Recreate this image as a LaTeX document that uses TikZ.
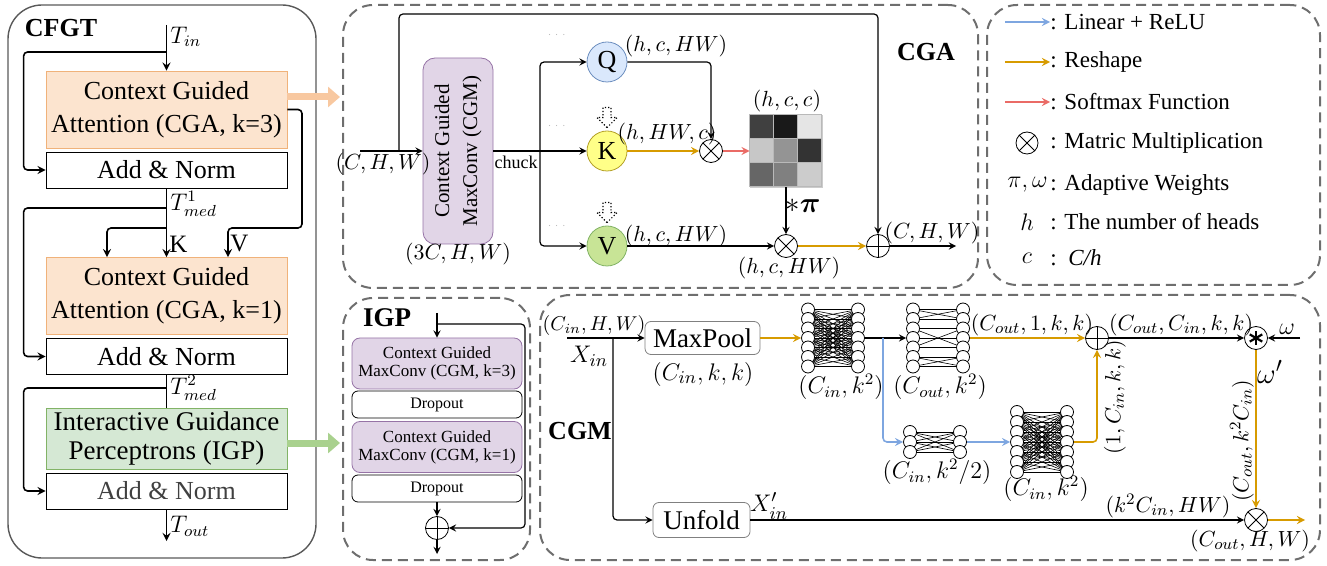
\documentclass[tikz,border=0pt]{standalone}
\usepackage[no-math]{fontspec}
\setmainfont{Liberation Serif}
\usepackage{amsmath,amssymb}
\usetikzlibrary{calc,arrows.meta}
\definecolor{cgafill}{RGB}{252,228,207}
\definecolor{cgadraw}{RGB}{240,178,122}
\definecolor{igpfill}{RGB}{213,232,212}
\definecolor{igpdraw}{RGB}{130,179,102}
\definecolor{cgmfill}{RGB}{225,213,231}
\definecolor{cgmdraw}{RGB}{150,115,166}
\definecolor{qfill}{RGB}{218,232,252}
\definecolor{qdraw}{RGB}{108,142,191}
\definecolor{kfill}{RGB}{255,255,136}
\definecolor{kdraw}{RGB}{180,160,40}
\definecolor{vfill}{RGB}{200,228,150}
\definecolor{linrelu}{RGB}{126,166,224}
\definecolor{reshape}{RGB}{215,155,0}
\definecolor{softmax}{RGB}{234,107,102}
\definecolor{peach}{RGB}{248,200,160}
\definecolor{mint}{RGB}{169,209,142}
\definecolor{panelgray}{RGB}{110,110,110}

\pgfdeclarelayer{bg}
\pgfsetlayers{bg,main}

\tikzset{
  panel/.style={draw=panelgray, line width=1pt, dash pattern=on 5pt off 3pt, rounded corners=15pt, inner sep=0pt},
  flow/.style={thick, rounded corners=2pt},
  cfgtbox/.style={draw, minimum width=120.5pt, inner sep=0pt, align=center, font=\fontsize{13}{16.5}\selectfont},
  cgabox/.style={cfgtbox, fill=cgafill, draw=cgadraw, minimum height=38.5pt},
  normbox/.style={cfgtbox, minimum height=18pt},
  igpbox/.style={cfgtbox, fill=igpfill, draw=igpdraw, minimum height=30.5pt, font=\fontsize{13.5}{14.5}\selectfont},
  mcrot/.style={draw=cgmdraw, fill=cgmfill, rotate=90, rounded corners=6pt, minimum width=93pt, minimum height=35pt, inner sep=0pt, align=center, font=\fontsize{10.5}{14}\selectfont},
  mcbox/.style={draw=cgmdraw, fill=cgmfill, rounded corners=4pt, minimum width=85pt, minimum height=25.5pt, inner sep=0pt, align=center, font=\fontsize{8.5}{9}\selectfont},
  dropbox/.style={draw, rounded corners=3pt, minimum width=85pt, minimum height=13.5pt, inner sep=0pt, font=\fontsize{8}{9}\selectfont},
  opbox/.style={draw=gray, rounded corners=3pt, inner sep=0pt, font=\fontsize{13.5}{15}\selectfont},
  qkv/.style={circle, draw, minimum size=20pt, inner sep=0pt, font=\fontsize{13}{15}\selectfont},
  otimes/.style={circle, draw, fill=white, minimum size=11.5pt, inner sep=0pt, path picture={
      \draw (path picture bounding box.north west) -- (path picture bounding box.south east)
            (path picture bounding box.north east) -- (path picture bounding box.south west);}},
  oplus/.style={circle, draw, fill=white, minimum size=11.5pt, inner sep=0pt, path picture={
      \draw (path picture bounding box.north) -- (path picture bounding box.south)
            (path picture bounding box.west) -- (path picture bounding box.east);}},
  ostar/.style={circle, draw, fill=white, minimum size=11.5pt, inner sep=0pt, path picture={
      \foreach \a in {90,30,-30}{\draw[line width=1.1pt] (path picture bounding box.center) ++(\a:3.6pt) -- ++({\a+180}:7.2pt);}}},
  neuron/.style={circle, draw, fill=white, minimum size=6.5pt, inner sep=0pt, line width=0.4pt},
  nnline/.style={line width=0.3pt},
  lab/.style={font=\fontsize{10.5}{12}\selectfont, inner sep=1pt},
  biglab/.style={font=\fontsize{12}{14}\selectfont, inner sep=1pt},
  ttl/.style={font=\fontsize{13}{15}\selectfont\bfseries, inner sep=0pt},
  legtext/.style={anchor=west, font=\fontsize{11.5}{13}\selectfont, inner sep=0pt},
  rs/.style={draw=reshape, line width=0.8pt},
  lr/.style={draw=linrelu, line width=0.8pt},
  sm/.style={draw=softmax, line width=0.8pt},
}

% two columns of neurons, #1 name, #2 left x, #3 centre y, #4 count, #5 gap
\newcommand{\nnlayer}[5]{%
  \foreach \i in {1,...,#4}{%
    \node[neuron] (#1l\i) at (#2, {#3+(\i-(#4+1)/2)*#5}) {};
    \node[neuron] (#1r\i) at ({#2+50}, {#3+(\i-(#4+1)/2)*#5}) {};
  }%
}

\begin{document}
\begin{tikzpicture}[x=0.5pt, y=-0.5pt, >=stealth]
\useasboundingbox (0,0) rectangle (1327,566);

% ---------- CFGT ----------
\draw[draw=black!65, line width=0.7pt, rounded corners=17pt] (8,5) rectangle (316,558);
\node[ttl] (cfgtT) at (61,28) {CFGT};
\node[cgabox] (cga1) at (166.5,109.5) {Context Guided\\Attention (CGA, k=3)};
\node[normbox] (an1) at (166.5,170) {Add \& Norm};
\node[cgabox] (cga2) at (166.5,296) {Context Guided\\Attention (CGA, k=1)};
\node[normbox] (an2) at (166.5,356.5) {Add \& Norm};
\node[igpbox] (igp) at (166.5,438.5) {Interactive Guidance\\Perceptrons (IGP)};
\node[normbox, text=black!75] (an3) at (166.5,491) {Add \& Norm};
\coordinate (tin) at (166.5,25);
\coordinate (r1) at (166.5,52);
\coordinate (t1) at (166.5,208);
\coordinate (kq) at (166.5,228);
\coordinate (vturn) at (302,228);
\coordinate (t2) at (166.5,388);
\coordinate (tout) at (166.5,541);

\draw[flow,->] (tin) -- (cga1);
\draw[flow,->] (r1) -| ([xshift=-11pt]an1.west) -- (an1);
\draw[flow] (an1) -- (kq);
\draw[flow,->] (t1) -| ([xshift=-11pt]an2.west) -- (an2);
\draw[flow,->] (kq) -- (cga2);
\draw[flow,->] (kq) -| ([xshift=-29.75pt]cga2.north);
\draw[flow,->] (cga1.east) -| (vturn) -| ([xshift=30.75pt]cga2.north);
\draw[flow] (an2) -- (igp);
\draw[flow,->] (t2) -| ([xshift=-11pt]an3.west) -- (an3);
\draw[flow,->] (an3) -- (tout);

\node[biglab, anchor=west] (tinL) at (168,37) {$T_{in}$};
\node[biglab, anchor=west] (t1L) at (168,204) {$T^1_{med}$};
\node[font=\fontsize{12.5}{14}\selectfont, anchor=west, inner sep=0.5pt] (kL) at (168,244) {K};
\node[font=\fontsize{12.5}{14}\selectfont, anchor=west, inner sep=0.5pt] (vL) at (229,244) {V};
\node[biglab, anchor=west] (t2L) at (168,388) {$T^2_{med}$};
\node[biglab, anchor=west] (toutL) at (168,526) {$T_{out}$};

% ---------- panels ----------
\node[panel, minimum width=317.5pt, minimum height=141.5pt] (cgap) at (660.5,146.5) {};
\node[panel, minimum width=166.5pt, minimum height=140pt] (legp) at (1153.5,145) {};
\node[panel, minimum width=93.5pt, minimum height=131pt] (igpp) at (436.5,429) {};
\node[panel, minimum width=390pt, minimum height=132.5pt] (cgmp) at (930,427.5) {};

% zoom arrows
\path (cga1.east) ++(0,-12.5) coordinate (pk1);
\path (igp.east) ++(0,4.5) coordinate (gk1);
\draw[peach, line width=3.5pt, -{Triangle[length=6pt,width=10pt]}] (pk1) -- ([xshift=-1pt]pk1 -| cgap.west);
\draw[mint, line width=3.5pt, -{Triangle[length=6pt,width=10pt]}] (gk1) -- ([xshift=-1pt]gk1 -| igpp.west);

% ---------- CGA ----------
\node[ttl] (cgaT) at (926,52) {CGA};
\coordinate (cin) at (360,151);
\coordinate (skip) at (399,151);
\coordinate (sp) at (540,151);
\coordinate (top) at (878,14);
\coordinate (cgaout) at (956,246);
\node[mcrot] (cgm) at (458,151) {Context Guided\\MaxConv (CGM)};
\node[qkv, fill=qfill, draw=qdraw] (q) at (607,62) {Q};
\node[qkv, fill=kfill, draw=kdraw] (k) at (607,151) {K};
\node[qkv, fill=vfill, draw=igpdraw] (v) at (607,246) {V};
\node[otimes] (mul1) at (711,151) {};
\node[draw=gray!40, minimum size=36pt, inner sep=0pt] (attn) at (786,151) {};
\foreach \g [count=\n from 0] in {75,90,10,22,42,80,60,50,20}
  \filldraw[fill=black!\g, draw=gray!55, line width=0.3pt]
    ($(attn.north west)+({mod(\n,3)*24},{int(\n/3)*24})$) rectangle ++(24,24);
\node[otimes] (mul2) at (786,246) {};
\node[oplus] (add1) at (878,246) {};

\draw[semithick,->] (cin) -- (cgm);
\draw[semithick,->,rounded corners=2pt] (skip) |- (top) -- (add1);
\draw[semithick,->] (cgm) -- (k);
\draw[semithick,->,rounded corners=2pt] (sp) |- (q);
\draw[semithick,->,rounded corners=2pt] (sp) |- (v);
\draw[semithick,->,rounded corners=2pt] (q) -| (mul1);
\draw[rs,->] (k) -- (mul1);
\draw[sm,->] (mul1) -- (attn);
\draw[semithick,->] (attn) -- (mul2);
\draw[semithick,->] (v) -- (mul2);
\draw[rs,->] (mul2) -- (add1);
\draw[semithick,->] (add1) -- (cgaout);

% hint arrows above K and V
\foreach \n in {k,v}
  \draw[densely dotted, semithick] ($(\n.north)+(0,-3)$) -- ++(-10,-10) -- ++(6,0) -- ++(0,-10)
    -- ++(8,0) -- ++(0,10) -- ++(6,0) -- cycle;
\foreach \yy/\m in {35/a,126/b,226/c}
  \node[text=gray!55, font=\tiny, inner sep=0pt] (dots\m) at (558,\yy) {$\cdots$};

\node[lab] (cinL) at (383,164) {$(C,H,W)$};
\node[font=\fontsize{9}{10}\selectfont, inner sep=0pt] (chuckL) at (516,162) {chuck};
\node[lab] (cgmL) at (458,254) {$(3C,H,W)$};
\node[lab] (qL) at (676,46) {$(h,c,HW)$};
\node[lab] (kL2) at (667,134) {$(h,HW,c)$};
\node[lab] (vL2) at (676,236) {$(h,c,HW)$};
\node[lab] (attnL) at (787,101) {$(h,c,c)$};
\node[font=\fontsize{15}{17}\selectfont, inner sep=0pt] (piL) at (803,206) {$\ast\boldsymbol{\pi}$};
\node[lab] (mul2L) at (789,268) {$(h,c,HW)$};
\node[lab] (outL) at (932,233) {$(C,H,W)$};

% ---------- legend ----------
\foreach \col/\txt/\yy [count=\i] in {linrelu/{Linear + ReLU}/22, reshape/Reshape/62, softmax/{Softmax Function}/102}{
  \coordinate (la\i) at (1005,\yy);
  \node[legtext] (lt\i) at (1050,\yy) {: \txt};
  \draw[->, \col, line width=0.8pt] (la\i) -- (lt\i);
}
\node[otimes, minimum size=11pt] (lsym4) at (1027,143) {};
\node[legtext] (lt4) at (1050,143) {: Matric Multiplication};
\node[legtext, anchor=east] (lsym5) at (1048,185) {$\pi,\omega$};
\node[legtext] (lt5) at (1050,185) {: Adaptive Weights};
\node[legtext, anchor=center] (lsym6) at (1027,222) {$h$};
\node[legtext] (lt6) at (1050,222) {: The number of heads};
\node[legtext, anchor=center] (lsym7) at (1027,258) {$c$};
\node[legtext] (lt7) at (1050,258) {:\enspace\textit{C/h}};

% ---------- IGP ----------
\node[ttl, font=\fontsize{13.5}{15}\selectfont\bfseries] (igpT) at (387,318) {IGP};
\coordinate (iin) at (437,313);
\coordinate (ibr) at (437,324);
\coordinate (iskip) at (525,528);
\coordinate (iout) at (437,554);
\node[mcbox] (mc3) at (437,363.5) {Context Guided\\MaxConv (CGM, k=3)};
\node[dropbox] (drop1) at (437,404.5) {Dropout};
\node[mcbox] (mc1) at (437,447) {Context Guided\\MaxConv (CGM, k=1)};
\node[dropbox] (drop2) at (437,488.5) {Dropout};
\node[oplus] (iplus) at (437,528) {};
\draw[semithick,->] (iin) -- (mc3);
\draw[semithick,->,rounded corners=2pt] (ibr) -| (iskip) -- (iplus);
\draw[semithick,->] (drop2) -- (iplus);
\draw[semithick,->] (iplus) -- (iout);

% ---------- CGM ----------
\node[ttl] (cgmT) at (580,431) {CGM};
\coordinate (xin) at (567,338);
\coordinate (xbr) at (613,338);
\coordinate (fork) at (883,338);
\coordinate (om) at (1300,338);
\coordinate (cout) at (1305,520);
\node[opbox, minimum width=57.5pt, minimum height=16.5pt] (pool) at (702.5,338) {MaxPool};
\node[opbox, minimum width=48.5pt, minimum height=17.5pt] (unfold) at (701.5,520) {Unfold};
\nnlayer{na}{808}{338}{7}{9.5}
\nnlayer{nb}{913}{338}{7}{9.5}
\nnlayer{nc}{910}{442}{3}{10}
\nnlayer{nd}{1017}{442}{7}{10}
\begin{pgfonlayer}{bg}
  \foreach \i in {1,...,7}{\foreach \j in {1,...,7}{
    \draw[nnline] (nal\i.center) -- (nar\j.center);
    \draw[nnline] (ndl\i.center) -- (ndr\j.center);}}
  \foreach \i in {1,2,3}{\foreach \j in {1,2,3}{\draw[nnline] (ncl\i.center) -- (ncr\j.center);}}
  \foreach \i/\j in {1/1,2/2,3/3,4/4,5/5,6/6,7/7,1/2,2/1,3/5,5/3,6/7,7/6}
    \draw[nnline] (nbl\i.center) -- (nbr\j.center);
\end{pgfonlayer}
\node[oplus] (cplus) at (1097,338) {};
\node[ostar] (star) at (1256,338) {};
\node[otimes] (cmul) at (1256,520) {};

\draw[semithick,->] (xin) -- (pool);
\draw[semithick,->,rounded corners=2pt] (xbr) |- (unfold);
\draw[rs,->] (pool) -- (nal4);
\draw[semithick,->] (nar4) -- (nbl4);
\draw[lr,->,rounded corners=2pt] (fork) |- (ncl2);
\draw[lr,->] (ncr2) -- (ndl4);
\draw[rs,->] (nbr4) -- (cplus);
\draw[rs,->,rounded corners=2pt] (ndr4) -| (cplus);
\draw[semithick,->] (cplus) -- (star);
\draw[semithick,->] (om) -- (star);
\draw[rs,->] (star) -- (cmul);
\draw[semithick,->] (unfold) -- (cmul);
\draw[rs,->] (cmul) -- (cout);

\node[lab, font=\fontsize{10}{12}\selectfont] (xinL) at (594,326) {$(C_{in},H,W)$};
\node[font=\fontsize{13}{15}\selectfont, inner sep=0pt] (xinL2) at (589,356) {$X_{in}$};
\node[font=\fontsize{13}{15}\selectfont, inner sep=0pt] (poolL) at (703,374) {$(C_{in},k,k)$};
\node[font=\fontsize{13}{15}\selectfont, inner sep=0pt] (xpL) at (769,506) {$X'_{in}$};
\node[biglab] (naL) at (841,387) {$(C_{in},k^2)$};
\node[biglab] (nbL) at (940,387) {$(C_{out},k^2)$};
\node[biglab] (ncL) at (937,472) {$(C_{in},k^2/2)$};
\node[biglab] (ndL) at (1046,489) {$(C_{in},k^2)$};
\node[biglab, font=\fontsize{11}{13}\selectfont] (nbOut) at (1032,325) {$(C_{out},1,k,k)$};
\node[biglab, font=\fontsize{11}{13}\selectfont] (cplusL) at (1181,325) {$(C_{out},C_{in},k,k)$};
\node[biglab, font=\fontsize{13}{15}\selectfont] (omL) at (1287,329) {$\omega$};
\node[biglab, font=\fontsize{15}{17}\selectfont] (omL2) at (1270,372) {$\omega'$};
\node[biglab, font=\fontsize{11}{13}\selectfont, rotate=90] (ndOut) at (1115,397) {$(1,C_{in},k,k)$};
\node[biglab, font=\fontsize{11}{13}\selectfont, rotate=90] (starL) at (1242,441) {$(C_{out},k^2C_{in})$};
\node[biglab, font=\fontsize{11}{13}\selectfont] (unfL) at (1168,506) {$(k^2C_{in},HW)$};
\node[biglab, font=\fontsize{11}{13}\selectfont] (cmulL) at (1250,541) {$(C_{out},H,W)$};
\end{tikzpicture}
\end{document}
